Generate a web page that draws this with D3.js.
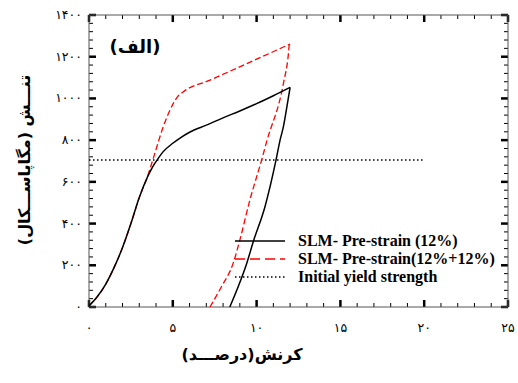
<!DOCTYPE html>
<html>
<head>
<meta charset="utf-8">
<script src="https://cdn.jsdelivr.net/npm/d3@7"></script>
<style>
  body { margin: 0; background: #fff; }
  svg { display: block; }
  .tickLabel { font-family: "DejaVu Sans", sans-serif; font-size: 12.5px; fill: #000; }
  .axisTitle { font-family: "DejaVu Sans", sans-serif; font-size: 15px; font-weight: bold; fill: #000; }
  .legendText { font-family: "Liberation Serif", serif; font-size: 16px; font-weight: bold; fill: #000; }
</style>
</head>
<body>
<script>
// data (strain %, stress MPa)
// pre-strain 12%: loading then unloading
var ps12LoadStrain = [0, 0.5, 1, 1.5, 2, 2.5, 3, 3.5, 3.75, 4, 4.43, 5, 5.43, 6, 7, 8, 9, 10, 11, 12];
var ps12LoadStress = [5, 50, 110, 190, 285, 400, 525, 625, 665, 697, 745, 785, 810, 838, 872, 907, 940, 975, 1013, 1053];
var ps12UnloadStrain = [12, 11.9, 11.6, 11.4, 11.16, 10.5, 9.8, 9.41, 8.9, 8.4];
var ps12UnloadStress = [1053, 1005, 865, 800, 705, 481, 313, 209, 97, 0];

// pre-strain 12%+12%
var ps24LoadStrain = [0, 0.5, 1, 1.5, 2, 2.5, 3, 3.5, 3.64, 4, 4.43, 5.03, 5.3, 5.63, 7.22, 12];
var ps24LoadStress = [5, 50, 110, 190, 285, 400, 525, 628, 662, 756, 864, 976, 1010, 1032, 1088, 1261];
var ps24UnloadStrain = [11.95, 11.9, 11.6, 10.6, 10.3, 9.6, 9.0, 8.6, 7.9, 7.22];
var ps24UnloadStress = [1261, 1216, 1072, 793, 705, 513, 321, 209, 97, 0];

var yieldStrength = 705;
var yieldStrainRange = [0, 19.9];

var xTicks = [0, 5, 10, 15, 20, 25];
var yTicks = [0, 200, 400, 600, 800, 1000, 1200, 1400];

var legendItems = [
  {text: "SLM- Pre-strain (12%)", color: "#000", dash: null},
  {text: "SLM- Pre-strain(12%+12%)", color: "#ff0000", dash: "10,5"},
  {text: "Initial yield strength", color: "#000", dash: "1.5,2.5"}
];

var width = 518, height = 383;
var margin = {left: 89, right: 10, top: 15, bottom: 76};

var svg = d3.select("body").append("svg")
  .attr("width", width)
  .attr("height", height);

var x = d3.scaleLinear().domain([0, 25]).range([margin.left, width - margin.right]);
var y = d3.scaleLinear().domain([0, 1400]).range([height - margin.bottom, margin.top]);

var faDigits = "۰۱۲۳۴۵۶۷۸۹";
function toFa(n){
  return String(n).replace(/[0-9]/g, function(d){ return faDigits[+d]; });
}

// ticks, pointing inward on all four sides
var ticksG = svg.append("g").attr("stroke", "#000");
d3.range(0, 25.01, 1).forEach(function(v){
  var major = v % 5 == 0;
  var len = major ? 7 : 4;
  var sw = major ? 2.5 : 1;
  ticksG.append("line").attr("x1", x(v)).attr("x2", x(v))
    .attr("y1", y(0)).attr("y2", y(0) - len).attr("stroke-width", sw);
  ticksG.append("line").attr("x1", x(v)).attr("x2", x(v))
    .attr("y1", y(1400)).attr("y2", y(1400) + len).attr("stroke-width", sw);
});
d3.range(0, 1400.1, 40).forEach(function(v){
  var major = v % 200 == 0;
  var len = major ? 7 : 4;
  var sw = major ? 2.5 : 1;
  ticksG.append("line").attr("y1", y(v)).attr("y2", y(v))
    .attr("x1", x(0)).attr("x2", x(0) + len).attr("stroke-width", sw);
  ticksG.append("line").attr("y1", y(v)).attr("y2", y(v))
    .attr("x1", x(25)).attr("x2", x(25) - len).attr("stroke-width", sw);
});

svg.append("rect")
  .attr("x", x(0)).attr("y", y(1400))
  .attr("width", x(25) - x(0)).attr("height", y(0) - y(1400))
  .attr("fill", "none").attr("stroke", "#555").attr("stroke-width", 1);

svg.selectAll("text.xlab")
  .data(xTicks).enter()
  .append("text")
    .attr("class", "tickLabel")
    .attr("x", function(d){ return x(d); })
    .attr("y", y(0) + 25)
    .attr("text-anchor", "middle")
    .text(function(d){ return toFa(d); });

svg.selectAll("text.ylab")
  .data(yTicks).enter()
  .append("text")
    .attr("class", "tickLabel")
    .attr("x", x(0) - 7)
    .attr("y", function(d){ return y(d) + 4; })
    .attr("text-anchor", "end")
    .text(function(d){ return toFa(d); });

// curves: monotone in strain so no wiggles
var line = d3.line()
  .x(function(d){ return x(d[0]); })
  .y(function(d){ return y(d[1]); })
  .curve(d3.curveMonotoneX);

var plot = svg.append("g");

plot.append("line")
  .attr("x1", x(yieldStrainRange[0])).attr("x2", x(yieldStrainRange[1]))
  .attr("y1", y(yieldStrength)).attr("y2", y(yieldStrength))
  .attr("stroke", "#000").attr("stroke-width", 1.5)
  .attr("stroke-dasharray", "1.5,2.5");

function drawCurve(loadX, loadY, unloadX, unloadY, color, sw, dash){
  var load = d3.zip(loadX, loadY);
  var unload = d3.zip(unloadX, unloadY).reverse();
  [load, unload].forEach(function(pts){
    plot.append("path")
      .datum(pts)
      .attr("d", line)
      .attr("fill", "none")
      .attr("stroke", color)
      .attr("stroke-width", sw)
      .attr("stroke-dasharray", dash);
  });
}

drawCurve(ps24LoadStrain, ps24LoadStress, ps24UnloadStrain, ps24UnloadStress, "#ff0000", 1.3, "6,3");
drawCurve(ps12LoadStrain, ps12LoadStress, ps12UnloadStrain, ps12UnloadStress, "#000", 1.5, null);

// legend
var legend = svg.append("g");
legendItems.forEach(function(d, i){
  var ly = 241 + i * 18;
  legend.append("line")
    .attr("x1", 235).attr("x2", 285).attr("y1", ly).attr("y2", ly)
    .attr("stroke", d.color).attr("stroke-width", 1.5)
    .attr("stroke-dasharray", d.dash);
  legend.append("text")
    .attr("class", "legendText")
    .attr("x", 298).attr("y", ly + 5)
    .text(d.text);
});

// panel label
svg.append("text")
  .attr("class", "axisTitle")
  .attr("x", 135).attr("y", 53)
  .attr("text-anchor", "middle")
  .style("font-size", "18px")
  .text("(الف)");

// axis titles
svg.append("text")
  .attr("class", "axisTitle")
  .attr("x", 242).attr("y", 360)
  .attr("text-anchor", "middle")
  .style("font-size", "16px")
  .text("کرنش(درصـــد)");

svg.append("text")
  .attr("class", "axisTitle")
  .attr("transform", "translate(30," + 160 + ") rotate(-90)")
  .attr("text-anchor", "middle")
  .style("font-size", "16px")
  .text("تنـــش (مگاپاســـکال)");
</script>
</body>
</html>
